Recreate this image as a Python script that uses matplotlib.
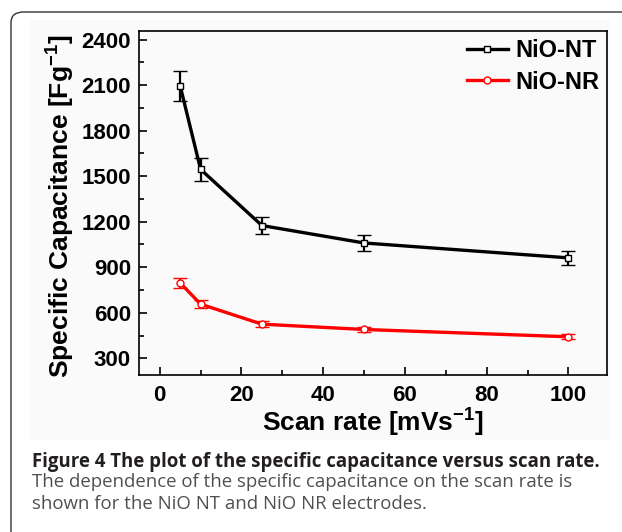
import matplotlib.pyplot as plt
from matplotlib.patches import FancyBboxPatch, Rectangle
import numpy as np

# scan rate (mV/s)
scan_rate = [5, 10, 25, 50, 100]
# specific capacitance (F/g)
nt_cap = [2095, 1545, 1175, 1060, 962]
nt_err = [100, 77, 55, 50, 48]
nr_cap = [797, 657, 525, 490, 442]
nr_err = [33, 28, 18, 15, 15]

caption_bold = "Figure 4 The plot of the specific capacitance versus scan rate."
caption_rest = ["The dependence of the specific capacitance on the scan rate is",
                "shown for the NiO NT and NiO NR electrodes."]

plt.rcParams['mathtext.fontset'] = 'custom'
plt.rcParams['mathtext.rm'] = 'Liberation Sans'
plt.rcParams['mathtext.bf'] = 'Liberation Sans:bold'

W, H = 622, 532
fig = plt.figure(figsize=(W / 100, H / 100), dpi=100)

# figure frame (open on the right) and light image background
frame = FancyBboxPatch((11 / W, -0.05), 1.2, (532 - 12) / H + 0.05,
                       boxstyle="round,pad=0,rounding_size=0.02",
                       transform=fig.transFigure, fill=False,
                       edgecolor="#333333", linewidth=1.0, clip_on=False,
                       zorder=-2)
fig.patches.append(frame)
fig.patches.append(Rectangle((30 / W, 1 - 440 / H), 580 / W, 420 / H,
                             transform=fig.transFigure, facecolor="#fafafa",
                             edgecolor="none", zorder=-1))

ax = fig.add_axes([139.3 / W, 1 - 375.3 / H, (607.3 - 139.3) / W, (375.3 - 31) / H])
ax.set_zorder(1)
ax.patch.set_alpha(0)

eb1 = ax.errorbar(scan_rate, nt_cap, yerr=nt_err, color="black", lw=2.4,
                  marker="s", ms=5, mfc="white", mec="black", mew=1.0,
                  capsize=5, capthick=1.8, elinewidth=1.6)
eb2 = ax.errorbar(scan_rate, nr_cap, yerr=nr_err, color="red", lw=2.4,
                  marker="o", ms=5, mfc="white", mec="red", mew=1.0,
                  capsize=5, capthick=1.8, elinewidth=1.6)

ax.set_xlim(-5, 109.5)
ax.set_ylim(188, 2457)
ax.set_xticks([0, 20, 40, 60, 80, 100])
ax.set_xticks(np.arange(10, 101, 20), minor=True)
ax.set_yticks(np.arange(300, 2401, 300))
ax.set_yticks(np.arange(450, 2401, 300), minor=True)
ax.tick_params(which="both", direction="in", width=1.2, labelsize=16)
ax.tick_params(which="major", length=6)
ax.tick_params(which="minor", length=3.5)
ax.tick_params(axis="x", pad=7)
ax.tick_params(axis="y", pad=6)
for lab in ax.get_xticklabels() + ax.get_yticklabels():
    lab.set_fontweight("bold")
    lab.set_family("Liberation Sans")
for s in ax.spines.values():
    s.set_linewidth(1.2)

ax.set_xlabel("Scan rate [mVs$^{\\mathbf{-1}}$]", fontsize=19, fontweight="bold",
              family="Liberation Sans")
ax.xaxis.set_label_coords(0.5, -0.086)
ax.set_ylabel("Specific Capacitance [Fg$^{\\mathbf{-1}}$]", fontsize=19,
              fontweight="bold", family="Liberation Sans")
ax.yaxis.set_label_coords(-0.136, 0.49)

ax.legend([eb1[0], eb2[0]], ["NiO-NT", "NiO-NR"], loc="upper right",
          frameon=False, handlelength=1.75, handletextpad=0.3,
          labelspacing=0.35, borderaxespad=0.1, borderpad=0.25,
          prop={"family": "Liberation Sans", "weight": "bold", "size": 17})

# caption
fig.text(32 / W, 1 - 467 / H, caption_bold, fontsize=13.4, fontweight="bold",
         family="Open Sans", color="#231f20", va="baseline")
for i, line in enumerate(caption_rest):
    fig.text(32 / W, 1 - (487 + 22 * i) / H, line, fontsize=13.4,
             family="Open Sans", color="#505050", va="baseline")

fig.savefig("out.png", dpi=100)
